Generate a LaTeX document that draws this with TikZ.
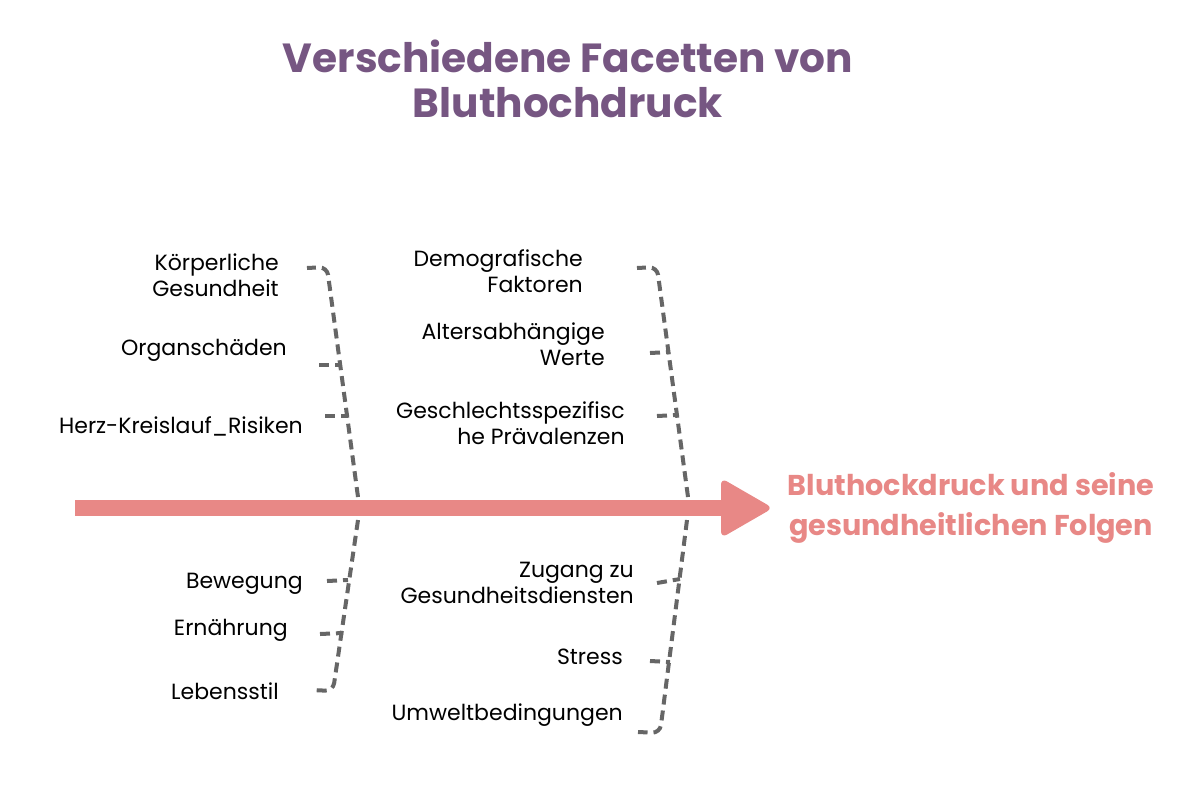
\documentclass[tikz,border=0pt]{standalone}
\usepackage{fontspec}
\setmainfont{Poppins}
\usetikzlibrary{positioning}
\definecolor{titlepurple}{HTML}{765682}
\definecolor{arrowpink}{HTML}{E88886}
\definecolor{bonegray}{HTML}{666666}

\begin{document}
\begin{tikzpicture}[x=0.75pt,y=-0.75pt]
   \tikzset{BoneStyle/.style={draw=bonegray, line width=3pt,
      dash pattern=on 7.5pt off 4.5pt, rounded corners=6pt}}
   \tikzset{CauseStyle/.style={font=\fontsize{16.5}{19.5}\selectfont, align=right, inner sep=0pt}}
   \useasboundingbox (0,0) rectangle (1201,803);
   % title
   \node[font=\fontsize{30.5}{34}\selectfont\bfseries, text=titlepurple, align=center]
      (title) at (568,79) {Verschiedene Facetten von\\Bluthochdruck};
   % main arrow
   \coordinate (tail) at (75,508);
   \coordinate (tip) at (773,508);
   \draw[arrowpink, line width=12pt] (tail) -- ([xshift=-30pt]tip);
   \fill[arrowpink, rounded corners=5pt] (721,478) -- (tip) -- (721,538) -- cycle;
   \node[font=\fontsize{21.5}{30}\selectfont\bfseries, text=arrowpink, align=center]
      (effect) at (971,508) {Bluthockdruck und seine\\gesundheitlichen Folgen};
   % causes, upper left
   \node[CauseStyle, anchor=east] (koerper) at (279,275) {Körperliche\\Gesundheit};
   \node[CauseStyle, anchor=east] (organ) at (287,350) {Organschäden};
   \node[CauseStyle, anchor=east] (herz) at (303,426) {Herz-Kreislauf\_Risiken};
   % causes, upper right
   \node[CauseStyle, anchor=east] (demo) at (583,271) {Demografische\\Faktoren};
   \node[CauseStyle, anchor=east] (alter) at (605,344) {Altersabhängige\\Werte};
   \node[CauseStyle, anchor=east] (geschl) at (625,423) {Geschlechtsspezifisc\\he Prävalenzen};
   % causes, lower left
   \node[CauseStyle, anchor=east] (beweg) at (303,584) {Bewegung};
   \node[CauseStyle, anchor=east] (ernaehr) at (288,630) {Ernährung};
   \node[CauseStyle, anchor=east] (leben) at (279,691) {Lebensstil};
   % causes, lower right
   \node[CauseStyle, anchor=east] (zugang) at (634,583) {Zugang zu\\Gesundheitsdiensten};
   \node[CauseStyle, anchor=east] (stress) at (623,657) {Stress};
   \node[CauseStyle, anchor=east] (umwelt) at (623,715) {Umweltbedingungen};
   % spines
   \coordinate (lu) at (358,497);
   \coordinate (ru) at (688,497);
   \coordinate (ll) at (358,520);
   \coordinate (rl) at (687,520);
   \draw[BoneStyle] (lu) -- (327,267) -- (307,268);
   \draw[BoneStyle] (ru) -- (657,267) -- (637,268);
   \draw[BoneStyle] (ll) -- (333,691) -- (312,690);
   \draw[BoneStyle] (rl) -- (660,733) -- (638,732);
   % ribs
   \draw[BoneStyle] (319,365) -- (341,365);
   \draw[BoneStyle] (325,416) -- (348,416);
   \draw[BoneStyle] (650,353) -- (670,352);
   \draw[BoneStyle] (657,416) -- (678,415);
   \draw[BoneStyle] (327,581) -- (348,580);
   \draw[BoneStyle] (320,634) -- (343,633);
   \draw[BoneStyle] (657,583) -- (680,579);
   \draw[BoneStyle] (650,661) -- (670,662);
\end{tikzpicture}
\end{document}
